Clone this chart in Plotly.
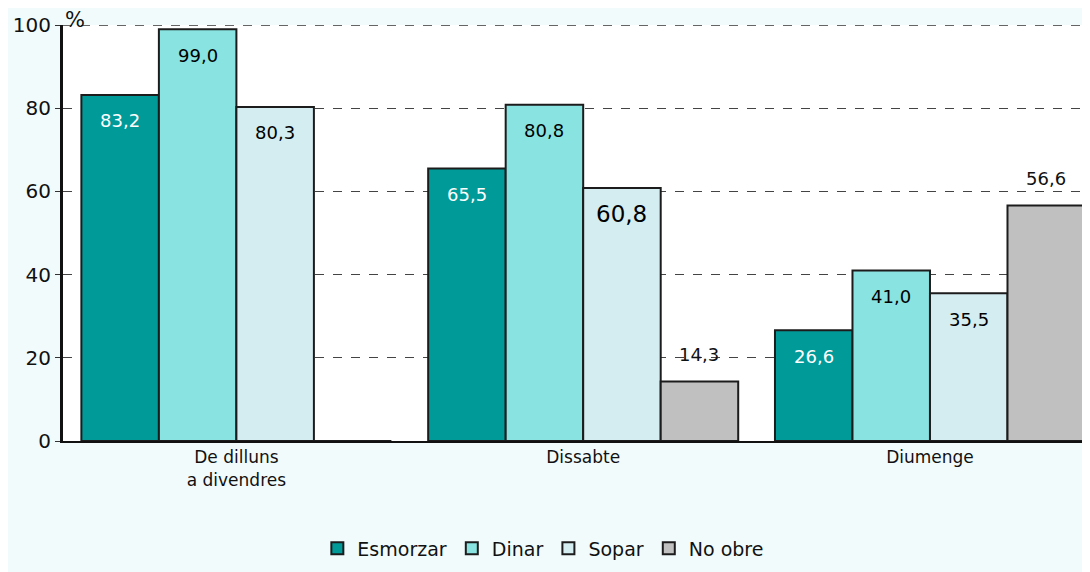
import plotly.graph_objects as go

categories = ["De dilluns<br>a divendres", "Dissabte", "Diumenge"]
series_names = ["Esmorzar", "Dinar", "Sopar", "No obre"]
esmorzar = [83.2, 65.5, 26.6]
dinar = [99.0, 80.8, 41.0]
sopar = [80.3, 60.8, 35.5]
no_obre = [0.0, 14.3, 56.6]
y_ticks = [0, 20, 40, 60, 80, 100]

values = [esmorzar, dinar, sopar, no_obre]
colors = ["#009a99", "#88e3e1", "#d4edf1", "#c0c0c0"]
text_colors = ["white", "black", "black", "black"]

FONT = "DejaVu Sans"
bargap = 0.106
bw = (1 - bargap) / 4

fig = go.Figure()
annotations = []
for j, (name, vals) in enumerate(zip(series_names, values)):
    xs = [i + (j - 1.5) * bw for i in range(len(categories))]
    fig.add_trace(go.Bar(
        x=xs, y=vals, width=bw, name=name,
        marker=dict(color=colors[j], line=dict(color="#1c1c1c", width=2)),
    ))
    for i, v in enumerate(vals):
        if v == 0:
            continue
        outside = (j == 3)
        size = 18
        if j == 2 and i == 1:
            size = 23
        annotations.append(dict(
            x=xs[i], y=v, xref="x", yref="y",
            text=f"{v:.1f}".replace(".", ","),
            showarrow=False,
            yshift=27 if outside else -26,
            font=dict(family=FONT, size=size,
                      color="#111" if outside else text_colors[j]),
        ))

annotations.append(dict(
    x=0.0, y=1, xref="paper", yref="paper", text="%",
    showarrow=False, xanchor="left", yanchor="bottom", yshift=-9,
    font=dict(family=FONT, size=21, color="#111"),
))

fig.update_layout(
    width=1082, height=564,
    margin=dict(l=52, r=5, t=17, b=129),
    paper_bgcolor="#f1fbfc",
    plot_bgcolor="#ffffff",
    barmode="overlay",
    showlegend=True,
    legend=dict(orientation="h", x=0.47, xanchor="center", y=-0.258, yanchor="middle",
                font=dict(family=FONT, size=19, color="#111"),
                itemwidth=30, traceorder="normal", bgcolor="rgba(0,0,0,0)"),
    annotations=annotations,
    shapes=[dict(type="line", xref="paper", yref="y", x0=0, x1=1, y0=100, y1=100,
                 line=dict(color="#333", width=1.5, dash="dash"), layer="below")],
    xaxis=dict(
        range=[-0.5, 2.447], tickvals=list(range(len(categories))), ticktext=categories,
        showgrid=False, zeroline=False, showline=True, linecolor="#111", linewidth=2,
        ticks="", tickfont=dict(family=FONT, size=17, color="#111"),
    ),
    yaxis=dict(
        range=[0, 100], tickvals=y_ticks, ticktext=[str(t) for t in y_ticks],
        showgrid=True, gridcolor="#444", griddash="dash", gridwidth=1,
        zeroline=False, showline=True, linecolor="#111", linewidth=3,
        ticks="outside", ticklen=5, tickcolor="#333",
        tickfont=dict(family=FONT, size=20, color="#111"),
    ),
    font=dict(family=FONT),
)

fig.write_html("out.html")
